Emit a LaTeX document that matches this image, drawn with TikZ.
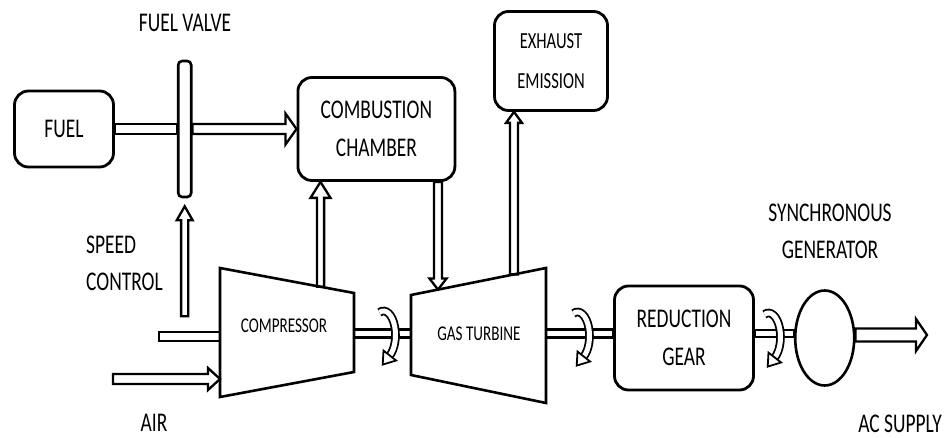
\documentclass[tikz,border=0pt]{standalone}
\usepackage{fontspec}
\setmainfont{Carlito}[FakeStretch=0.72]
\usetikzlibrary{positioning,calc,shapes.geometric}

\tikzset{
  block/.style={draw, line width=2.8pt, rounded corners=14pt, align=center, inner sep=0pt, font=\fontsize{27}{38}\selectfont},
  valvebar/.style={draw, line width=2.6pt, rounded corners=4pt, minimum width=13pt, minimum height=136pt, inner sep=0pt},
  machine/.style={draw, line width=2.6pt, line join=miter},
  pipe/.style={draw, line width=2.3pt, line join=miter},
  tag/.style={font=\fontsize{27}{37}\selectfont, inner sep=0pt},
  small tag/.style={font=\fontsize{21}{25}\selectfont, inner sep=0pt},
  spin/.pic={
    \draw[line width=1.8pt, double distance=5pt] (-110:12 and 24) arc[start angle=-110, end angle=58, x radius=12, y radius=24];
    \draw[line width=1.8pt, fill=white, line join=miter] (12.6,25.5) -- (-0.8,29.6) -- (0.0,15.6) -- cycle;
  }
}

% hollow bar: from, to, half width
\newcommand{\pipebar}[3]{%
  \draw[pipe] ($(#1)!#3!90:(#2)$) -- ($(#2)!#3!-90:(#1)$) -- ($(#2)!#3!90:(#1)$) -- ($(#1)!#3!-90:(#2)$) -- cycle;}
% hollow arrow: from, to, half shaft, half head, head length
\newcommand{\pipearrow}[5]{%
  \coordinate (hb) at ($(#2)!#5!(#1)$);
  \draw[pipe] ($(#1)!#3!90:(#2)$) -- ($(hb)!#3!-90:(#1)$) -- ($(hb)!#4!-90:(#1)$) -- (#2)
    -- ($(hb)!#4!90:(#1)$) -- ($(hb)!#3!90:(#1)$) -- ($(#1)!#3!-90:(#2)$) -- cycle;}

\begin{document}
\begin{tikzpicture}[x=1pt, y=-1pt]
\useasboundingbox (0,0) rectangle (945,438);
%----------------------------------
\node [block, minimum width=99pt, minimum height=76pt] (fuel) at (64,129) {FUEL};
\node [valvebar, right=62pt of fuel] (valve) {};
\node [block, minimum width=157pt, minimum height=103pt, right=104pt of valve] (comb) {COMBUSTION\\CHAMBER};
\node [block, font=\fontsize{23}{40}\selectfont, minimum width=113pt, minimum height=99pt] (exhaust) at (551,61) {EXHAUST\\EMISSION};
\node [block, minimum width=139pt, minimum height=104pt] (gear) at (684,338) {REDUCTION\\GEAR};
\node [draw, ellipse, line width=2.6pt, minimum width=59pt, minimum height=95pt, inner sep=0pt, right=39pt of gear] (gen) {};
%----------------------------------
\coordinate (c1) at (220,268); \coordinate (c2) at (354,293);
\coordinate (c3) at (354,372); \coordinate (c4) at (220,397);
\draw [machine] (c1) -- (c2) -- (c3) -- (c4) -- cycle;
\node [small tag] (comp) at (284,326) {COMPRESSOR};
\coordinate (t1) at (411,295); \coordinate (t2) at (546,268);
\coordinate (t3) at (546,403); \coordinate (t4) at (411,375);
\draw [machine] (t1) -- (t2) -- (t3) -- (t4) -- cycle;
\node [small tag] (turb) at (479,334) {GAS TURBINE};
%----------------------------------
\node [tag] (valvelbl) at (185,23) {FUEL VALVE};
\node [tag, align=left, anchor=west] (speed) at (86,263) {SPEED\\CONTROL};
\node [tag] (air) at (154,423) {AIR};
\node [tag, align=center] (syncgen) at (830,231) {SYNCHRONOUS\\GENERATOR};
\node [tag] (acsupply) at (900,424) {AC SUPPLY};
%----------------------------------
\coordinate (axis) at (0,333.5);
\coordinate (ctop) at ($(c1)!0.75!(c2)$);
\coordinate (tin) at ($(t1)!0.2!(t2)$);
\coordinate (tout) at ($(t1)!0.763!(t2)$);
\coordinate (spd) at ($(valve.south)+(0,118)$);
\coordinate (spdtip) at ($(valve.south)+(0,8)$);
\coordinate (airin) at (113,379);
\coordinate (pipein) at (159,336.5);
\coordinate (acout) at (927,335);
%----------------------------------
\pipebar{fuel.east}{valve.west}{5pt}
\pipearrow{valve.east}{comb.west}{5pt}{15.5pt}{11pt}
\pipearrow{spd}{spdtip}{3.6pt}{8pt}{14pt}
\pipearrow{airin}{airin -| c1}{5pt}{11pt}{12pt}
\pipebar{pipein}{pipein -| c1}{4.5pt}
\pipearrow{ctop}{ctop |- comb.south}{3.6pt}{10pt}{16pt}
\pipearrow{tin |- comb.south}{tin}{4pt}{8.5pt}{11pt}
\pipearrow{tout}{tout |- exhaust.south}{4pt}{8pt}{11pt}
\pipebar{c2 |- axis}{t1 |- axis}{4pt}
\pipebar{t2 |- axis}{gear.west |- axis}{4pt}
\pipebar{gear.east |- axis}{gen.west |- axis}{3.5pt}
\pipearrow{gen.east |- acout}{acout}{6.5pt}{16pt}{11pt}
%----------------------------------
\pic at (383.5,335) {spin};
\pic at (577.5,336) {spin};
\pic at (768.5,337) {spin};
\end{tikzpicture}
\end{document}
